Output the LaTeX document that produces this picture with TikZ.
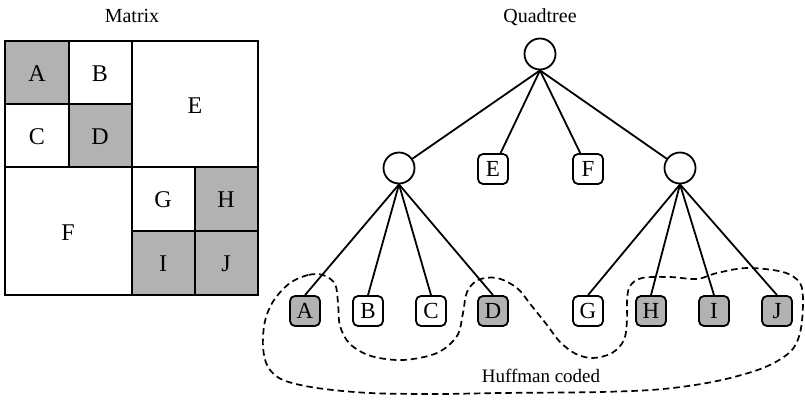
\documentclass[tikz,border=0pt]{standalone}
\usepackage{fontspec}
\setmainfont{Liberation Serif}
\begin{document}
\begin{tikzpicture}[x=1pt,y=-1pt,
  thickline/.style={line width=2pt},
  cell/.style={font=\fontsize{24}{24}\selectfont},
  shade/.style={fill=black!30},
  inner/.style={circle,draw,line width=1.8pt,minimum size=31pt,inner sep=0pt},
  leaf/.style={draw,line width=1.8pt,rounded corners=5pt,minimum width=30pt,minimum height=30pt,inner sep=0pt,font=\fontsize{23}{23}\selectfont},
  shleaf/.style={leaf,fill=black!30},
  edge/.style={line width=1.8pt},
  caption/.style={font=\fontsize{20}{20}\selectfont},
  huff/.style={line width=1.7pt,dash pattern=on 6.5pt off 4pt}]
\useasboundingbox (0,0) rectangle (805,399);

% ---- matrix ----
\node[caption] (mtitle) at (132,16) {Matrix};
\fill[shade] (5,41) rectangle (69,104);
\fill[shade] (69,104) rectangle (132,167);
\fill[shade] (195,167) rectangle (258,231);
\fill[shade] (132,231) rectangle (195,295);
\fill[shade] (195,231) rectangle (258,295);
\draw[thickline] (5,41) rectangle (258,295);
\draw[thickline] (132,41) -- (132,295);
\draw[thickline] (5,167) -- (258,167);
\draw[thickline] (69,41) -- (69,167);
\draw[thickline] (5,104) -- (132,104);
\draw[thickline] (195,167) -- (195,295);
\draw[thickline] (132,231) -- (258,231);
\node[cell] (mA) at (37,74) {A};
\node[cell] (mB) at (100,74) {B};
\node[cell] (mC) at (37,137) {C};
\node[cell] (mD) at (100,137) {D};
\node[cell] (mE) at (195,106) {E};
\node[cell] (mF) at (68,233) {F};
\node[cell] (mG) at (163,200) {G};
\node[cell] (mH) at (226,200) {H};
\node[cell] (mI) at (163,264) {I};
\node[cell] (mJ) at (226,264) {J};

% ---- quadtree ----
\node[caption] (qtitle) at (540,17) {Quadtree};
\node[inner] (root) at (540,54) {};
\node[inner] (nl) at (399,168) {};
\node[leaf] (e) at (493,169) {E};
\node[leaf] (f) at (588,169) {F};
\node[inner] (nr) at (680,168) {};

\node[shleaf] (a) at (305,311) {A};
\node[leaf] (b) at (368,311) {B};
\node[leaf] (c) at (431,311) {C};
\node[shleaf] (d) at (493,311) {D};
\node[leaf] (g) at (588,311) {G};
\node[shleaf] (h) at (651,311) {H};
\node[shleaf] (i) at (714,311) {I};
\node[shleaf] (j) at (777,311) {J};

\draw[edge] (root.south) -- (nl);
\draw[edge] (root.south) -- (e);
\draw[edge] (root.south) -- (f);
\draw[edge] (root.south) -- (nr);
\foreach \k in {a,b,c,d} \draw[edge] (nl.south) -- (\k.north);
\foreach \k in {g,h,i,j} \draw[edge] (nr.south) -- (\k.north);

% ---- Huffman coded region ----
\draw[huff] plot[smooth cycle,tension=0.55] coordinates {
  (323,275) (308,275) (290,283) (274,300) (265,321) (263,347) (268,367)
  (283,380) (317,388) (370,393) (437,394) (500,393) (600,392) (663,389)
  (717,381) (763,368) (790,352) (800,333) (803,303) (800,283) (783,272)
  (747,268) (717,273) (697,279) (670,277) (642,278) (630,286) (627,300)
  (627,320) (624,340) (612,353) (593,358) (576,354) (560,342) (547,325)
  (531,305) (517,288) (497,278) (478,280) (467,292) (463,313) (457,336)
  (437,353) (403,360) (371,356) (350,344) (340,326) (338,303) (335,284)};
\node[caption,font=\fontsize{19}{19}\selectfont] (hlabel) at (541,376) {Huffman coded};
\end{tikzpicture}
\end{document}
